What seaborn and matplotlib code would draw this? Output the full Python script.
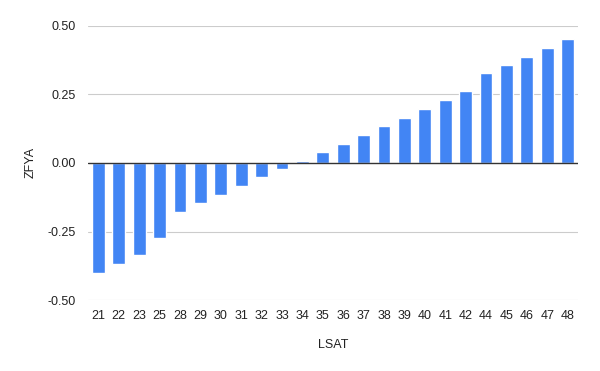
import matplotlib
matplotlib.use("Agg")
import matplotlib.pyplot as plt
import seaborn as sns
import pandas as pd

lsat = ["21", "22", "23", "25", "28", "29", "30", "31", "32", "33", "34", "35",
        "36", "37", "38", "39", "40", "41", "42", "44", "45", "46", "47", "48"]
zfya = [-0.400, -0.368, -0.337, -0.274, -0.178, -0.146, -0.116, -0.084, -0.051,
        -0.022, 0.008, 0.041, 0.070, 0.103, 0.136, 0.165, 0.197, 0.230, 0.260,
        0.326, 0.357, 0.387, 0.419, 0.452]
yticks = [-0.50, -0.25, 0.00, 0.25, 0.50]

df = pd.DataFrame({"LSAT": lsat, "ZFYA": zfya})

sns.set_theme(style="white")
plt.rcParams["font.family"] = ["Liberation Sans", "DejaVu Sans"]

fig = plt.figure(figsize=(6, 3.71), dpi=100)
ax = fig.add_axes([0.147, 0.191, 0.816, 0.740])

sns.barplot(data=df, x="LSAT", y="ZFYA", order=lsat, color="#4285F4",
            saturation=1, width=0.63, ax=ax, zorder=3)

ax.set_ylim(-0.5, 0.5)
ax.set_xlim(-0.5, len(lsat) - 0.5)
ax.set_yticks(yticks)
ax.set_yticklabels([f"{v:.2f}" for v in yticks])
for v in yticks:
    if v == 0:
        ax.axhline(v, color="#333333", lw=1.0, zorder=4)
    else:
        ax.axhline(v, color="#cccccc", lw=0.8, zorder=1)
for s in ax.spines.values():
    s.set_visible(False)
ax.tick_params(axis="both", length=0, labelsize=9, colors="#222222")
ax.tick_params(axis="y", pad=9)
ax.tick_params(axis="x", pad=7)
ax.set_xlabel("LSAT", fontsize=9, color="#222222", labelpad=12)
ax.set_ylabel("ZFYA", fontsize=9, color="#222222", labelpad=8)

fig.savefig("out.png", dpi=100)
